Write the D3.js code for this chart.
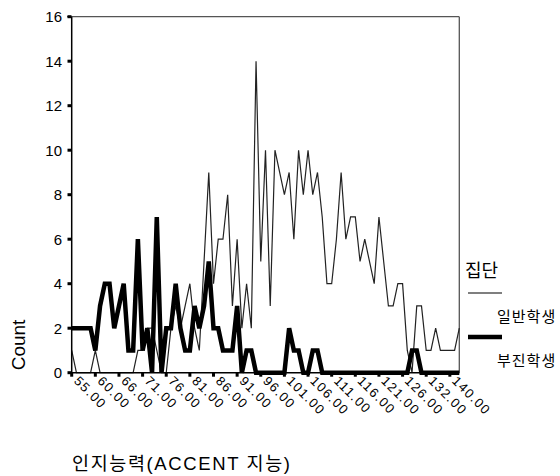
<!DOCTYPE html>
<html>
<head>
<meta charset="utf-8">
<script src="https://cdn.jsdelivr.net/npm/d3@7"></script>
<style>
  html, body { margin: 0; padding: 0; background: #fff; }
  svg { display: block; }
  text { font-family: "Liberation Sans", "Noto Sans CJK KR", sans-serif; fill: #000; }
</style>
</head>
<body>
<svg id="chart" width="560" height="476"></svg>
<script>
// ---- data ----
const categories = [
  55,56,57,58,59, 60,61,62,63,65, 66,67,68,69,70, 71,72,73,74,75,
  76,77,78,79,80, 81,82,83,84,85, 86,87,88,89,90, 91,92,93,94,95,
  96,97,98,99,100, 101,102,103,104,105, 106,107,108,109,110, 111,112,113,114,115,
  116,117,118,119,120, 121,122,123,124,125, 126,127,128,130,131, 132,133,135,137,138,
  140,141,145
];
const seriesNames = ["일반학생", "부진학생"];
const normalCounts = [
  1,0,0,0,0, 1,0,0,0,0, 0,0,0,0,1, 1,2,2,1,0,
  0,2,3,2,3, 4,2,1,5,9, 4,6,6,8,3, 6,2,4,2,14,
  5,10,3,10,9, 8,9,6,10,8, 10,8,9,7,4, 4,6,9,6,7,
  7,5,6,5,4, 7,5,3,3,4, 4,1,0,3,3, 1,1,2,1,1,
  1,1,2
];
const slowCounts = [
  2,2,2,2,2, 1,3,4,4,2, 3,4,1,1,6, 1,2,0,7,0,
  2,2,4,2,1, 1,3,2,3,5, 2,2,1,1,1, 3,0,1,1,0,
  0,0,0,0,0, 0,2,1,1,0, 0,1,1,0,0, 0,0,0,0,0,
  0,0,0,0,0, 0,0,0,0,0, 0,0,1,1,0, 0,0,0,0,0,
  0,0,0
];
const yTicks = [0,2,4,6,8,10,12,14,16];
const xLabelEvery = 5;
const legendTitle = "집단";
const xTitle = "인지능력(ACCENT 지능)";
const yTitle = "Count";

// ---- layout ----
const svg = d3.select("#chart");
const x = d3.scalePoint().domain(categories).range([71.7, 459.3]);
const y = d3.scaleLinear().domain([0, 16]).range([372.7, 16.7]);
const x0 = x.range()[0], x1 = x.range()[1];
const yTop = y(16), yBot = y(0);

// frame (top and right, grey)
svg.append("line").attr("x1", 67).attr("x2", x1).attr("y1", yTop).attr("y2", yTop)
  .attr("stroke", "#555").attr("stroke-width", 1.3);
svg.append("line").attr("x1", x1).attr("x2", x1).attr("y1", yTop).attr("y2", yBot)
  .attr("stroke", "#555").attr("stroke-width", 1.3);

// lines
const line = d3.line().x((d, i) => x(categories[i])).y(d => y(d));
svg.append("path").datum(normalCounts).attr("d", line)
  .attr("fill", "none").attr("stroke", "#222").attr("stroke-width", 1.2)
  .attr("stroke-linejoin", "miter");
svg.append("path").datum(slowCounts).attr("d", line)
  .attr("fill", "none").attr("stroke", "#000").attr("stroke-width", 4.5)
  .attr("stroke-linejoin", "miter").attr("stroke-miterlimit", 4);

// axes lines
svg.append("line").attr("x1", x0).attr("x2", x0).attr("y1", yTop).attr("y2", yBot + 1)
  .attr("stroke", "#000").attr("stroke-width", 1.5);
svg.append("line").attr("x1", x0).attr("x2", x1).attr("y1", yBot).attr("y2", yBot)
  .attr("stroke", "#000").attr("stroke-width", 1.5);

// y ticks
const yg = svg.append("g");
yTicks.forEach(t => {
  yg.append("rect").attr("x", 67.5).attr("y", y(t) - 1.5).attr("width", 4).attr("height", 3).attr("fill", "#000");
  yg.append("text").attr("x", 62).attr("y", y(t)).attr("dy", "0.36em")
    .attr("text-anchor", "end").attr("font-size", 15).text(t);
});

// x ticks
const xg = svg.append("g");
categories.forEach((c, i) => {
  if (i % xLabelEvery !== 0) return;
  const px = x(c);
  xg.append("rect").attr("x", px - 1.5).attr("y", yBot).attr("width", 3).attr("height", 4).attr("fill", "#000");
  xg.append("text")
    .attr("transform", `translate(${px + 1.5},${yBot + 9}) rotate(45)`)
    .attr("font-size", 13).attr("letter-spacing", 1.4)
    .text(d3.format(".2f")(c));
});

// titles
svg.append("text").attr("x", 72).attr("y", 470).attr("font-size", 18.5)
  .attr("textLength", 218).attr("lengthAdjust", "spacing").text(xTitle);
svg.append("text").attr("transform", `translate(25,345) rotate(-90)`)
  .attr("text-anchor", "middle").attr("font-size", 19).text(yTitle);

// legend
svg.append("text").attr("x", 465).attr("y", 277).attr("font-size", 18).text(legendTitle);
const legY = [293, 337];
const legW = [1.2, 4.5];
seriesNames.forEach((n, k) => {
  svg.append("line").attr("x1", 468).attr("x2", 502).attr("y1", legY[k]).attr("y2", legY[k])
    .attr("stroke", "#000").attr("stroke-width", legW[k]);
  svg.append("text").attr("x", 497).attr("y", legY[k] + 29).attr("font-size", 15)
    .attr("letter-spacing", 1).text(n);
});
</script>
</body>
</html>
